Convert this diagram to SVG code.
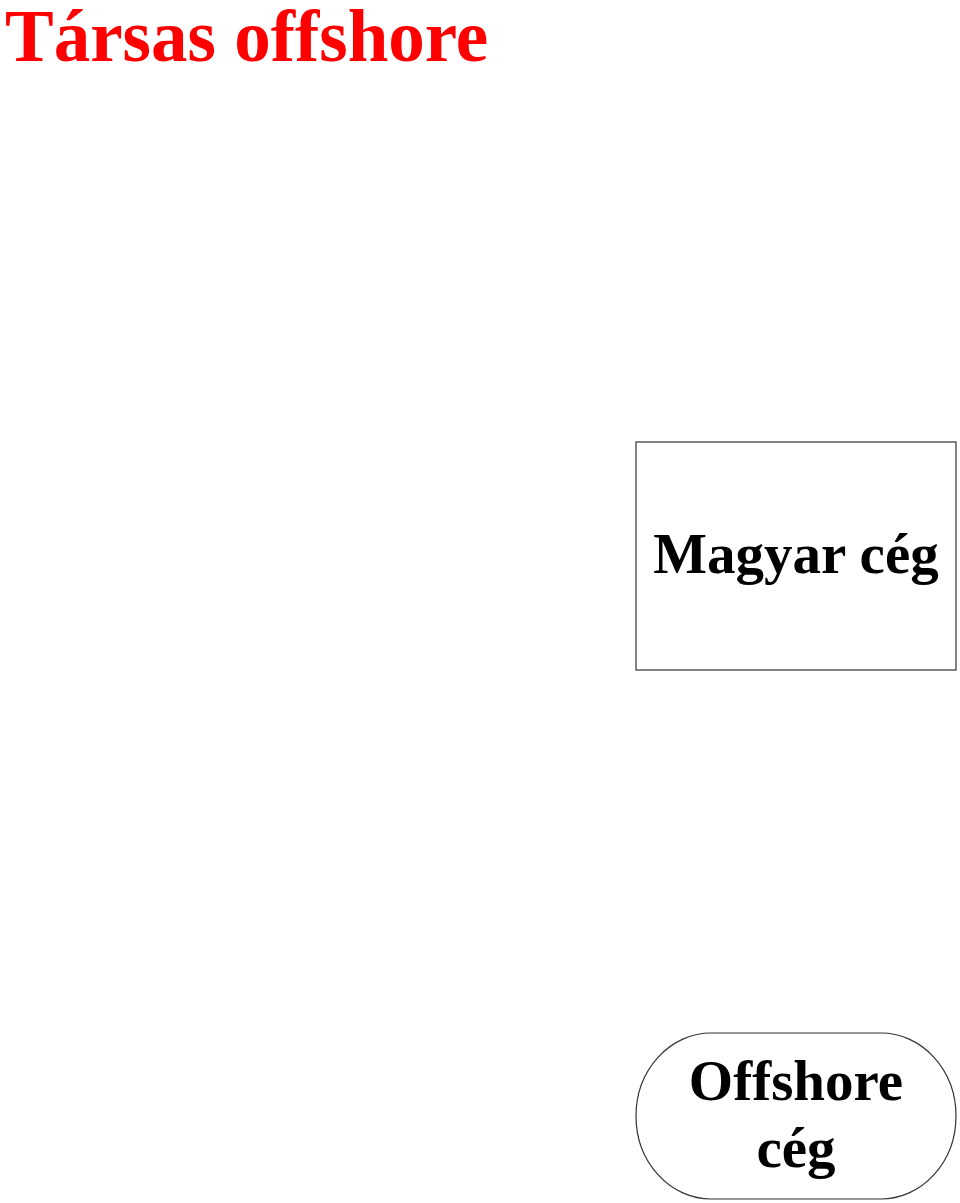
<svg xmlns="http://www.w3.org/2000/svg" width="960" height="1203" viewBox="0 0 960 1203">
<style>
.t{font-family:"Liberation Serif","Times New Roman",serif;font-weight:bold}
.lbl{font-size:57px;fill:#000;text-anchor:middle}
.shape{fill:#fff;stroke:#333;stroke-width:1.2}
</style>
<rect width="960" height="1203" fill="#fff"/>
<text class="t" x="5" y="61" font-size="73" fill="#f00">Társas offshore</text>
<g id="connectors"></g>
<g id="magyar">
<rect class="shape" x="636" y="442" width="320" height="228"/>
<text class="t lbl" x="796" y="573">Magyar cég</text>
</g>
<g id="offshore">
<rect class="shape" x="636" y="1033" width="320" height="166" rx="75" ry="83"/>
<text class="t lbl" x="796" y="1100">Offshore</text>
<text class="t lbl" x="796" y="1167">cég</text>
</g>
</svg>
